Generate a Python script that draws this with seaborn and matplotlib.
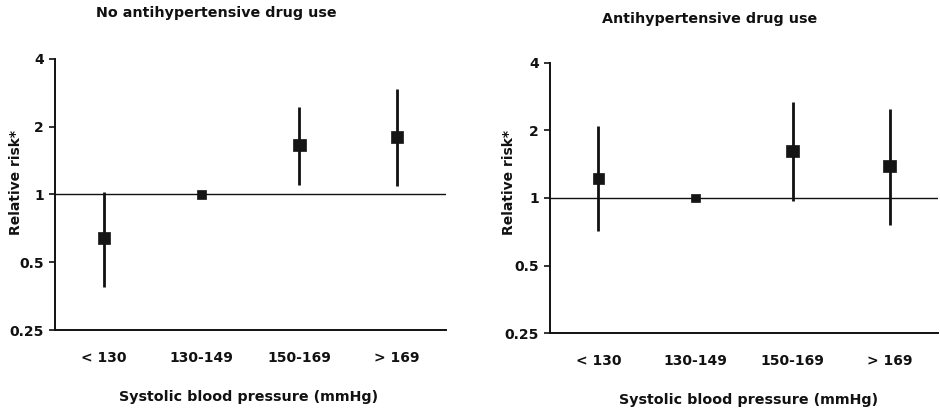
import numpy as np
import pandas as pd
import matplotlib
matplotlib.use("Agg")
import matplotlib.pyplot as plt
import seaborn as sns

# Systolic blood pressure categories
categories = ["< 130", "130-149", "150-169", "> 169"]

# Relative risk with 95% confidence limits, no antihypertensive drug use
rr_no_drug = [0.64, 1.0, 1.66, 1.80]
lo_no_drug = [0.39, np.nan, 1.10, 1.09]
hi_no_drug = [1.03, np.nan, 2.45, 2.93]

# Relative risk with 95% confidence limits, antihypertensive drug use
rr_drug = [1.22, 1.0, 1.62, 1.39]
lo_drug = [0.71, np.nan, 0.97, 0.76]
hi_drug = [2.09, np.nan, 2.66, 2.50]

y_ticks = [0.25, 0.5, 1, 2, 4]
y_tick_labels = ["0.25", "0.5", "1", "2", "4"]

sns.set_theme(style="white")
plt.rcParams["font.family"] = ["DejaVu Sans"]
plt.rcParams["font.weight"] = "bold"

fig = plt.figure(figsize=(9.4, 4.12), dpi=100)
ax_left = fig.add_axes([0.0585, 0.199, 0.416, 0.658])
ax_right = fig.add_axes([0.585, 0.191, 0.413, 0.657])

panels = [
    (ax_left, rr_no_drug, lo_no_drug, hi_no_drug, "No antihypertensive drug use",
     (0.230, 0.968), (0.264, 0.036), (0.017, 0.558)),
    (ax_right, rr_drug, lo_drug, hi_drug, "Antihypertensive drug use",
     (0.755, 0.953), (0.796, 0.029), (0.541, 0.556)),
]

marker_sizes = [70, 40, 80, 80]

for ax, rr, lo, hi, title, tpos, xlpos, ylpos in panels:
    df = pd.DataFrame({"pos": np.arange(len(categories)), "rr": rr,
                       "lo": lo, "hi": hi, "size": marker_sizes})
    ax.set_yscale("log", base=2)
    ax.axhline(1.0, color="#111111", lw=1.0, zorder=1)
    ci = df.dropna()
    ax.vlines(ci["pos"], ci["lo"], ci["hi"], color="#111111", lw=2.0, zorder=2)
    sns.scatterplot(data=df, x="pos", y="rr", size="size", sizes=(40, 80),
                    marker="s", color="#151515", edgecolor="#151515",
                    linewidth=0.5, legend=False, ax=ax, zorder=3)
    ax.set_xlim(-0.5, 3.5)
    ax.set_ylim(0.25, 4)
    ax.set_yticks(y_ticks)
    ax.set_yticklabels(y_tick_labels)
    ax.minorticks_off()
    ax.set_xticks(range(len(categories)))
    ax.set_xticklabels(categories)
    ax.tick_params(axis="y", which="major", length=4, width=1.2, direction="out",
                   left=True, labelsize=10, pad=4, colors="#111111")
    ax.tick_params(axis="x", length=0, labelsize=10, pad=15, colors="#111111")
    for lab in ax.get_xticklabels() + ax.get_yticklabels():
        lab.set_fontweight("bold")
    sns.despine(ax=ax)
    for side in ("left", "bottom"):
        ax.spines[side].set_color("#111111")
        ax.spines[side].set_linewidth(1.4)
    ax.set_xlabel("")
    ax.set_ylabel("")
    fig.text(ylpos[0], ylpos[1], "Relative risk*", rotation=90, ha="center",
             va="center", fontsize=10, fontweight="bold", color="#111111")
    fig.text(tpos[0], tpos[1], title, ha="center", va="center",
             fontsize=10.3, fontweight="bold", color="#111111")
    fig.text(xlpos[0], xlpos[1], "Systolic blood pressure (mmHg)", ha="center",
             va="center", fontsize=10.3, fontweight="bold", color="#111111")

fig.savefig("out.png", dpi=100)
